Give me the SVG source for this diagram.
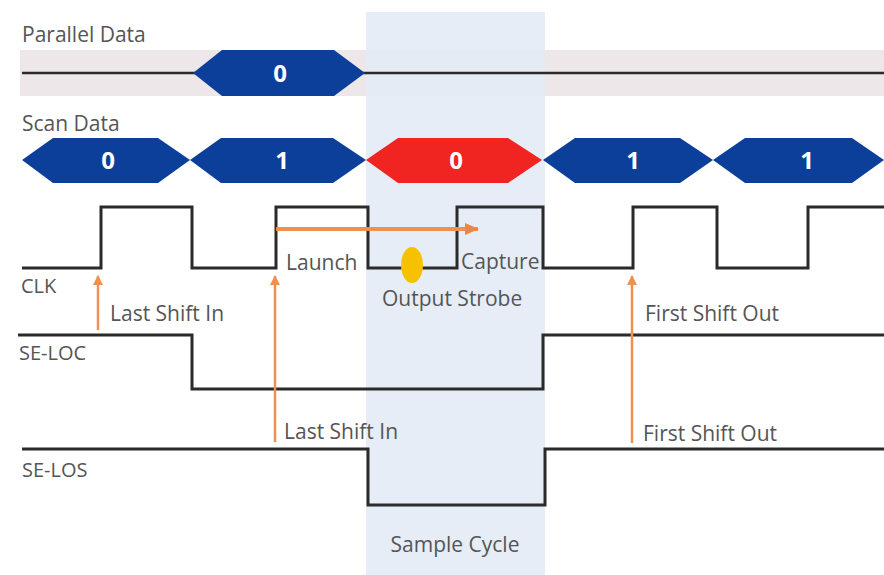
<svg xmlns="http://www.w3.org/2000/svg" width="884" height="575" viewBox="0 0 884 575">
<defs>
<style>
.lbl{font-family:"Open Sans","Noto Sans",sans-serif;font-size:21px;fill:#555}
.sig{font-family:"Open Sans","Noto Sans",sans-serif;font-size:20px;fill:#555}
.val{font-family:"Open Sans","Noto Sans",sans-serif;font-size:24px;font-weight:bold;fill:#fff;text-anchor:middle}
.wave{fill:none;stroke:#2a2a2a;stroke-width:3}
.blue{fill:#0b3f99}
.red{fill:#f02420}
.arr{stroke:#ee914e;fill:none}
</style>
<marker id="ah" markerWidth="10" markerHeight="10" refX="9" refY="5" orient="auto" markerUnits="userSpaceOnUse">
<path d="M0,0 L10,5 L0,10 Z" fill="#ee914e"/>
</marker>
<marker id="ahBig" markerWidth="14" markerHeight="12" refX="13" refY="6" orient="auto" markerUnits="userSpaceOnUse">
<path d="M0,0 L14,6 L0,12 Z" fill="#e9874a"/>
</marker>
</defs>
<rect width="884" height="575" fill="#fff"/>
<!-- parallel data band -->
<rect x="20" y="50" width="864" height="46" fill="#ede7e9"/>
<!-- sample cycle band -->
<rect id="sample-cycle" x="366" y="12" width="179" height="563" fill="#e4ecf5" opacity="0.92"/>
<line x1="22" y1="73" x2="884" y2="73" stroke="#2a2a2a" stroke-width="2.5"/>
<text class="lbl" x="22" y="42">Parallel Data</text>
<g id="parallel-0">
<polygon class="blue" points="193,73 222,50 334,50 365,73 334,96 222,96"/>
<text class="val" x="280" y="82">0</text>
</g>
<text class="lbl" x="22" y="131">Scan Data</text>
<g id="scan-0"><polygon class="blue" points="22,160 53,138 158,138 190,160 158,183 53,183"/><text class="val" x="108" y="169">0</text></g>
<g id="scan-1"><polygon class="blue" points="190,160 221,138 333,138 366,160 333,183 221,183"/><text class="val" x="282" y="169">1</text></g>
<g id="scan-2"><polygon class="red" points="366,160 398,138 508,138 542,160 508,183 398,183"/><text class="val" x="456" y="169">0</text></g>
<g id="scan-3"><polygon class="blue" points="543,160 575,138 680,138 713,160 680,183 575,183"/><text class="val" x="633" y="169">1</text></g>
<g id="scan-4"><polygon class="blue" points="713,160 745,138 852,138 884,160 852,183 745,183"/><text class="val" x="807" y="169">1</text></g>
<g id="clk">
<polyline class="wave" points="22,268 101,268 101,207 192,207 192,268 276,268 276,207 368,207 368,268 457,268 457,207 543,207 543,268 633,268 633,207 717,207 717,268 808,268 808,207 884,207"/>
<text class="sig" x="21" y="293">CLK</text>
</g>
<g id="se-loc">
<polyline class="wave" points="18,335 192,335 192,389 543,389 543,335 884,335"/>
<text class="sig" x="19" y="360">SE-LOC</text>
</g>
<g id="se-los">
<polyline class="wave" points="22,449 368,449 368,505 545,505 545,449 884,449"/>
<text class="sig" x="22" y="477">SE-LOS</text>
</g>
<g id="output-strobe">
<ellipse cx="412" cy="265" rx="11" ry="18" fill="#f6c200"/>
<text class="lbl" x="382" y="306">Output Strobe</text>
</g>
<g id="connectors">
<line class="arr" x1="276" y1="229" x2="478" y2="229" stroke-width="4" stroke="#e9874a" marker-end="url(#ahBig)"/>
<line class="arr" x1="98" y1="330" x2="98" y2="276" stroke-width="2.5" marker-end="url(#ah)"/>
<line class="arr" x1="275" y1="442" x2="275" y2="276" stroke-width="2.5" marker-end="url(#ah)"/>
<line class="arr" x1="632" y1="443" x2="632" y2="276" stroke-width="2.5" marker-end="url(#ah)"/>
</g>
<text class="lbl" x="286" y="270">Launch</text>
<text class="lbl" x="461" y="269">Capture</text>
<text class="lbl" x="110" y="321">Last Shift In</text>
<text class="lbl" x="645" y="321">First Shift Out</text>
<text class="lbl" x="284" y="439">Last Shift In</text>
<text class="lbl" x="643" y="441">First Shift Out</text>
<text class="lbl" x="455" y="552" text-anchor="middle">Sample Cycle</text>
</svg>
